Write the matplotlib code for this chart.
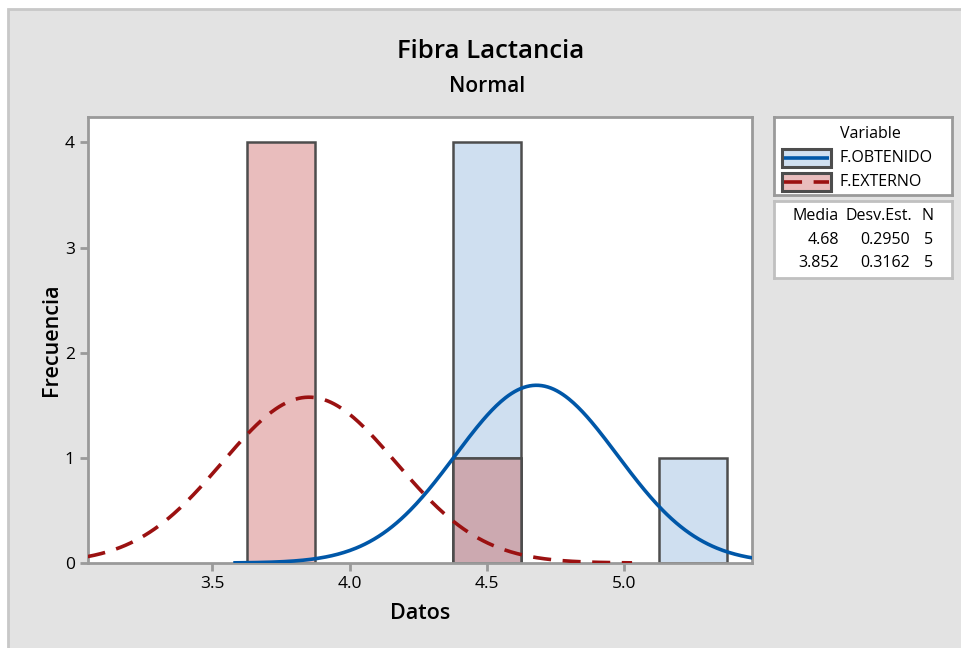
import numpy as np
import matplotlib.pyplot as plt
from matplotlib.patches import Rectangle

plt.rcParams['font.family'] = ['Open Sans', 'DejaVu Sans']

# data
bin_mids = [3.75, 4.5, 5.25]
bin_width = 0.25
counts_obtenido = [0, 4, 1]
counts_externo = [4, 1, 0]
names = ['F.OBTENIDO', 'F.EXTERNO']
means = [4.68, 3.852]
stdevs = [0.2950, 0.3162]
n_obs = [5, 5]

blue_fill = '#cfdff0'
blue_line = '#0057a8'
red_fill = '#e9bdbd'
red_line = '#9b1111'
overlap_fill = '#cca9b0'
edge = '#4d4d4d'
dash = (0, (5.0, 3.2))

fig = plt.figure(figsize=(9.62, 6.48), dpi=100, facecolor='white')
bg = Rectangle((8 / 962, -0.1), 1, 1.1 - 9 / 648, transform=fig.transFigure,
               facecolor='#e3e3e3', edgecolor='#c8c8c8', lw=2, zorder=-10)
fig.add_artist(bg)

ax = fig.add_axes([88 / 962, 1 - 563 / 648, (752 - 88) / 962, (563 - 117) / 648])
ax.set_facecolor('white')

ax.bar(bin_mids, counts_obtenido, width=bin_width, color=blue_fill, edgecolor=edge, lw=1.8, zorder=2)
ax.bar(bin_mids, counts_externo, width=bin_width, color=red_fill, edgecolor=edge, lw=1.8, zorder=2)
overlap = np.minimum(counts_obtenido, counts_externo)
ax.bar(bin_mids, overlap, width=bin_width, color=overlap_fill, edgecolor=edge, lw=1.8, zorder=2)

for m, s, n, c, ls in zip(means, stdevs, n_obs, [blue_line, red_line], ['-', dash]):
    x = np.linspace(m - 3.72 * s, m + 3.72 * s, 400)
    y = n * bin_width / (s * np.sqrt(2 * np.pi)) * np.exp(-0.5 * ((x - m) / s) ** 2)
    ax.plot(x, y, color=c, lw=2.6, ls=ls, zorder=3)

ax.set_xlim(3.047, 5.465)
ax.set_ylim(0, 4.242)
ax.set_xticks([3.5, 4.0, 4.5, 5.0])
ax.set_xticklabels(['3.5', '4.0', '4.5', '5.0'])
ax.set_yticks([0, 1, 2, 3, 4])
for sp in ax.spines.values():
    sp.set_color('#9a9a9a')
    sp.set_linewidth(2)
ax.tick_params(colors='#9a9a9a', width=2, length=6, labelcolor='black', labelsize=12.5)
ax.set_xlabel('Datos', fontsize=15.5, fontweight='semibold', labelpad=8)
ax.set_ylabel('Frecuencia', fontsize=15.5, fontweight='semibold', labelpad=2)

fig.text(491 / 962, 1 - 51 / 648, 'Fibra Lactancia', ha='center', va='center',
         fontsize=18.5, fontweight='semibold')
fig.text(487 / 962, 1 - 86 / 648, 'Normal', ha='center', va='center',
         fontsize=15, fontweight='semibold')

# legend box
lg = fig.add_axes([774 / 962, 1 - 195 / 648, 178 / 962, 78 / 648])
lg.set_xlim(0, 178)
lg.set_ylim(78, 0)
lg.set_xticks([])
lg.set_yticks([])
for sp in lg.spines.values():
    sp.set_color('#9a9a9a')
    sp.set_linewidth(2)
lg.text(96, 17, 'Variable', ha='center', va='center', fontsize=11.5, fontweight='medium')
for row, (name, fc, lc, ls) in enumerate(zip(names, [blue_fill, red_fill], [blue_line, red_line],
                                               ['-', dash])):
    yc = 41 + row * 24
    lg.add_patch(Rectangle((8, yc - 9), 49, 18, facecolor=fc, edgecolor=edge, lw=2.2))
    lg.plot([10, 55], [yc, yc], color=lc, lw=2.6, ls=ls, solid_capstyle='butt', dash_capstyle='butt')
    lg.text(66, yc, name, ha='left', va='center', fontsize=11.5, fontweight='medium')

# stats box
st = fig.add_axes([774 / 962, 1 - 278 / 648, 178 / 962, 77 / 648])
st.set_xlim(0, 178)
st.set_ylim(77, 0)
st.set_xticks([])
st.set_yticks([])
for sp in st.spines.values():
    sp.set_color('#c0c0c0')
    sp.set_linewidth(2)
st.text(65, 15, 'Media', ha='right', va='center', fontsize=11.5, fontweight='medium')
st.text(138, 15, 'Desv.Est.', ha='right', va='center', fontsize=11.5, fontweight='medium')
st.text(160, 15, 'N', ha='right', va='center', fontsize=11.5, fontweight='medium')
for row, (m, s, n) in enumerate(zip(means, stdevs, n_obs)):
    yc = 39 + row * 23
    st.text(65, yc, f'{m:g}', ha='right', va='center', fontsize=11.5)
    st.text(136, yc, f'{s:.4f}', ha='right', va='center', fontsize=11.5)
    st.text(159, yc, f'{n}', ha='right', va='center', fontsize=11.5)

fig.savefig('out.png', dpi=100, facecolor=fig.get_facecolor())
